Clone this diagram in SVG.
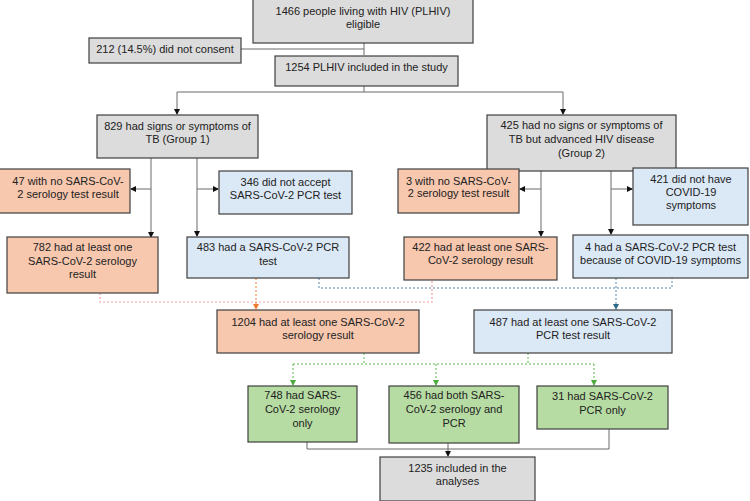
<svg xmlns="http://www.w3.org/2000/svg" width="750" height="501" viewBox="0 0 750 501">
<defs>
<style>
.box{stroke:#3f3f3f;stroke-width:1.2}
.g{fill:#dcdcdc}
.o{fill:#f7c7ae}
.b{fill:#dbe8f6}
.gr{fill:#b6dca3}
text{font-family:"Liberation Sans",Arial,sans-serif;font-size:11px;fill:#222;text-anchor:middle}
.c{fill:none;stroke:#6a6a6a;stroke-width:1}
.cp{fill:none;stroke:#f3a2a0;stroke-width:1.2;stroke-dasharray:2 2}
.co{fill:none;stroke:#ed7d31;stroke-width:1;stroke-dasharray:2 2}
.cb{fill:none;stroke:#5b83a8;stroke-width:1;stroke-dasharray:2 2}
.cg{fill:none;stroke:#5cb84c;stroke-width:1;stroke-dasharray:2 2}
</style>
<marker id="ak" markerWidth="6" markerHeight="6" refX="5" refY="3" orient="auto" markerUnits="userSpaceOnUse"><path d="M0,0 L6,3 L0,6 Z" fill="#111"/></marker>
<marker id="ao" markerWidth="6" markerHeight="6" refX="5" refY="3" orient="auto" markerUnits="userSpaceOnUse"><path d="M0,0 L6,3 L0,6 Z" fill="#ed7d31"/></marker>
<marker id="ab" markerWidth="6" markerHeight="6" refX="5" refY="3" orient="auto" markerUnits="userSpaceOnUse"><path d="M0,0 L6,3 L0,6 Z" fill="#2f6b8f"/></marker>
<marker id="ag" markerWidth="6" markerHeight="6" refX="5" refY="3" orient="auto" markerUnits="userSpaceOnUse"><path d="M0,0 L6,3 L0,6 Z" fill="#4cad3c"/></marker>
</defs>
<rect width="750" height="501" fill="#fff"/>
<g id="connectors">
<path class="c" d="M364,43 V55"/>
<path class="c" d="M241,49 H364"/>
<path class="c" d="M364,86 V92 M177,92 H563"/>
<path class="c" d="M177,92 V114" marker-end="url(#ak)"/>
<path class="c" d="M563,92 V114" marker-end="url(#ak)"/>
<path class="c" d="M151,158 V237" marker-end="url(#ak)"/>
<path class="c" d="M151,189 H131" marker-end="url(#ak)"/>
<path class="c" d="M197,158 V236" marker-end="url(#ak)"/>
<path class="c" d="M197,189 H218" marker-end="url(#ak)"/>
<path class="c" d="M541,171 V236" marker-end="url(#ak)"/>
<path class="c" d="M541,189 H520" marker-end="url(#ak)"/>
<path class="c" d="M611,171 V234" marker-end="url(#ak)"/>
<path class="c" d="M611,189 H632" marker-end="url(#ak)"/>
<path class="cp" d="M100,293 V302 H432 V280"/>
<path class="co" d="M256,278 V309" marker-end="url(#ao)"/>
<path class="cb" d="M319,278 V288 H672 V278"/>
<path class="cb" d="M616,278 V309" marker-end="url(#ab)"/>
<path class="cg" d="M364,353 V364 M528,353 V364 M293,364 H594"/>
<path class="cg" d="M293,364 V385" marker-end="url(#ag)"/>
<path class="cg" d="M436,364 V385" marker-end="url(#ag)"/>
<path class="cg" d="M594,364 V385" marker-end="url(#ag)"/>
<path class="c" d="M307,442 V449 H609 V429"/>
<path class="c" d="M448,443 V456" marker-end="url(#ak)"/>
</g>
<g id="n1"><rect class="box g" x="253" y="-1" width="220" height="44"/><text x="363" y="15">1466 people living with HIV (PLHIV)</text><text x="363" y="28">eligible</text></g>
<g id="n2"><rect class="box g" x="89" y="38" width="152" height="25"/><text x="165" y="53">212 (14.5%) did not consent</text></g>
<g id="n3"><rect class="box g" x="275" y="56" width="183" height="30"/><text x="366.5" y="71">1254 PLHIV included in the study</text></g>
<g id="n4"><rect class="box g" x="97" y="115" width="161" height="43"/><text x="177.5" y="130">829 had signs or symptoms of</text><text x="177.5" y="143">TB (Group 1)</text></g>
<g id="n5"><rect class="box g" x="487" y="115" width="189" height="56"/><text x="581.5" y="129">425 had no signs or symptoms of</text><text x="581.5" y="143">TB but advanced HIV disease</text><text x="581.5" y="157">(Group 2)</text></g>
<g id="n6"><rect class="box o" x="-4" y="169" width="134" height="44"/><text x="68" y="185">47 with no SARS-CoV-</text><text x="68" y="198">2 serology test result</text></g>
<g id="n7"><rect class="box b" x="219" y="171" width="133" height="43"/><text x="285.5" y="186">346 did not accept</text><text x="285.5" y="199">SARS-CoV-2 PCR test</text></g>
<g id="n8"><rect class="box o" x="7" y="237" width="151" height="56"/><text x="82.5" y="251">782 had at least one</text><text x="82.5" y="265">SARS-CoV-2 serology</text><text x="82.5" y="278">result</text></g>
<g id="n9"><rect class="box b" x="187" y="237" width="162" height="41"/><text x="268" y="251">483 had a SARS-CoV-2 PCR</text><text x="268" y="265">test</text></g>
<g id="n10"><rect class="box o" x="398" y="169" width="121" height="44"/><text x="458.5" y="185">3 with no SARS-CoV-</text><text x="458.5" y="197">2 serology test result</text></g>
<g id="n11"><rect class="box b" x="633" y="168" width="115" height="57"/><text x="691" y="183">421 did not have</text><text x="691" y="196">COVID-19</text><text x="691" y="209">symptoms</text></g>
<g id="n12"><rect class="box o" x="404" y="237" width="153" height="43"/><text x="480.5" y="251">422 had at least one SARS-</text><text x="480.5" y="264">CoV-2 serology result</text></g>
<g id="n13"><rect class="box b" x="573" y="235" width="175" height="43"/><text x="660.5" y="251">4 had a SARS-CoV-2 PCR test</text><text x="660.5" y="264">because of COVID-19 symptoms</text></g>
<g id="n14"><rect class="box o" x="217" y="310" width="202" height="43"/><text x="318" y="326">1204 had at least one SARS-CoV-2</text><text x="318" y="339">serology result</text></g>
<g id="n15"><rect class="box b" x="474" y="310" width="198" height="43"/><text x="573" y="326">487 had at least one SARS-CoV-2</text><text x="573" y="339">PCR test result</text></g>
<g id="n16"><rect class="box gr" x="248" y="386" width="109" height="56"/><text x="302.5" y="399">748 had SARS-</text><text x="302.5" y="413">CoV-2 serology</text><text x="302.5" y="427">only</text></g>
<g id="n17"><rect class="box gr" x="389" y="386" width="130" height="57"/><text x="454" y="399">456 had both SARS-</text><text x="454" y="413">CoV-2 serology and</text><text x="454" y="427">PCR</text></g>
<g id="n18"><rect class="box gr" x="537" y="386" width="131" height="43"/><text x="602.5" y="400">31 had SARS-CoV-2</text><text x="602.5" y="414">PCR only</text></g>
<g id="n19"><rect class="box g" x="380" y="457" width="155" height="44"/><text x="457.5" y="472">1235 included in the</text><text x="457.5" y="485">analyses</text></g>
</svg>
